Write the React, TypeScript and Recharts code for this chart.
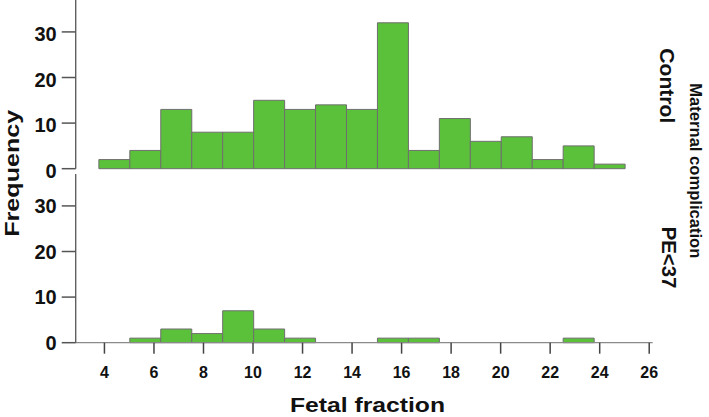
import React from 'react';
import { BarChart, Bar, XAxis, YAxis } from 'recharts';

// Histogram bin centres (bin width ≈ 1.25)
const binCenters = [4.4, 5.65, 6.9, 8.15, 9.4, 10.65, 11.9, 13.15, 14.4, 15.65, 16.9, 18.15, 19.4, 20.65, 21.9, 23.15, 24.4];
const controlCounts = [2, 4, 13, 8, 8, 15, 13, 14, 13, 32, 4, 11, 6, 7, 2, 5, 1];
const peCounts = [0, 1, 3, 2, 7, 3, 1, 0, 0, 1, 1, 0, 0, 0, 0, 1, 0];
const xTicks = [4, 6, 8, 10, 12, 14, 16, 18, 20, 22, 24, 26];
const yTicks = [0, 10, 20, 30];
const xDomain = [2.84, 26.14];
const yDomain = [0, 37];
const panelNames = ['Control', 'PE<37'];
const xTitle = 'Fetal fraction';
const yTitle = 'Frequency';
const facetTitle = 'Maternal complication';

const FONT = '"Liberation Sans", Arial, Helvetica, sans-serif';
const FILL = '#5cc13a';
const STROKE = '#6e6e6e';

const controlData = binCenters.map((x, i) => ({ x, count: controlCounts[i] }));
const peData = binCenters.map((x, i) => ({ x, count: peCounts[i] }));

const W = 709;
const PLOT_H = 168.7;
const Y_AXIS_W = 75.7;
const RIGHT = 56.3;

function Panel({ data, bottom }: { data: { x: number; count: number }[]; bottom: boolean }) {
  const xAxisH = bottom ? 44 : 0;
  const extra = bottom ? 0 : 14;
  return (
    <BarChart
      width={W}
      height={PLOT_H + xAxisH + extra}
      data={data}
      margin={{ top: 0, right: RIGHT, bottom: extra, left: 0 }}
      barCategoryGap={0}
      barGap={0}
      style={{ fontFamily: FONT }}
    >
      <XAxis
        dataKey="x"
        type="number"
        domain={xDomain}
        ticks={bottom ? xTicks : []}
        height={xAxisH}
        axisLine={{ stroke: bottom ? '#8a8a8a' : '#aaaaaa', strokeWidth: 1.3 }}
        tickLine={bottom ? { stroke: '#444', strokeWidth: 1.5 } : false}
        tickSize={11}
        tickMargin={13}
        tick={bottom ? { fontSize: 16, fontWeight: 'bold', fill: '#111', fontFamily: FONT } : false}
        interval={0}
      />
      <YAxis
        type="number"
        domain={yDomain}
        ticks={yTicks}
        width={Y_AXIS_W}
        axisLine={{ stroke: '#555', strokeWidth: 1.3 }}
        tickLine={{ stroke: '#555', strokeWidth: 1.5 }}
        tickSize={14}
        tickMargin={5}
        tick={{ fontSize: 20, fontWeight: 'bold', fill: '#111', fontFamily: FONT, dy: bottom ? 0 : 2 }}
        interval={0}
      />
      <Bar dataKey="count" fill={FILL} stroke={STROKE} strokeWidth={1} isAnimationActive={false} />
    </BarChart>
  );
}

export default function App() {
  return (
    <div style={{ position: 'absolute', left: 0, top: 0, width: W, height: 417, background: '#fff', fontFamily: FONT }}>
      <div style={{ position: 'absolute', left: 0, top: 0 }}>
        <Panel data={controlData} bottom={false} />
      </div>
      <div style={{ position: 'absolute', left: 0, top: 173.6 }}>
        <Panel data={peData} bottom={true} />
      </div>
      <svg
        width={W}
        height={417}
        style={{ position: 'absolute', left: 0, top: 0, pointerEvents: 'none', fontFamily: FONT }}
      >
        <text
          transform="translate(19,173.3) rotate(-90)"
          textAnchor="middle"
          fontSize={21}
          fontWeight="bold"
          fill="#111"
          textLength={127}
          lengthAdjust="spacingAndGlyphs"
        >
          {yTitle}
        </text>
        <text
          x={367.5}
          y={412}
          textAnchor="middle"
          fontSize={21}
          fontWeight="bold"
          fill="#111"
          textLength={155}
          lengthAdjust="spacingAndGlyphs"
        >
          {xTitle}
        </text>
        <text
          transform="translate(660,85.8) rotate(90)"
          textAnchor="middle"
          fontSize={21}
          fontWeight="bold"
          fill="#111"
          textLength={75}
          lengthAdjust="spacingAndGlyphs"
        >
          {panelNames[0]}
        </text>
        <text
          transform="translate(661.7,257.5) rotate(90)"
          textAnchor="middle"
          fontSize={21}
          fontWeight="bold"
          fill="#111"
          textLength={61.7}
          lengthAdjust="spacingAndGlyphs"
        >
          {panelNames[1]}
        </text>
        <text
          transform="translate(690,170.8) rotate(90)"
          textAnchor="middle"
          fontSize={16}
          fontWeight="bold"
          fill="#111"
          textLength={175}
          lengthAdjust="spacingAndGlyphs"
        >
          {facetTitle}
        </text>
      </svg>
    </div>
  );
}
